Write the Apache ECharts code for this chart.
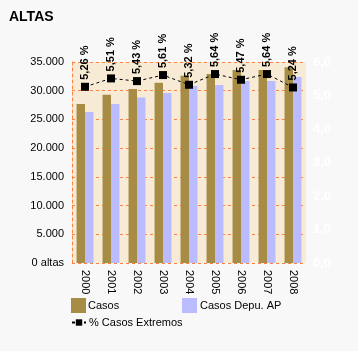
<!DOCTYPE html>
<html>
<head>
<meta charset="utf-8">
<script src="https://cdn.jsdelivr.net/npm/echarts@6/dist/echarts.min.js"></script>
<style>
  html, body { margin: 0; padding: 0; background: #f8f8f8; }
  #main { width: 358px; height: 351px; }
</style>
</head>
<body>
<div id="main"></div>
<script>
var years = ['2000', '2001', '2002', '2003', '2004', '2005', '2006', '2007', '2008'];
var casos = [27700, 29300, 30300, 31400, 32600, 32900, 33600, 33600, 34100];
var casosDepu = [26300, 27700, 28800, 29600, 30800, 31000, 31700, 31700, 32400];
var pctExtremos = [5.26, 5.51, 5.43, 5.61, 5.32, 5.64, 5.47, 5.64, 5.24];
var leftTicks = [0, 5000, 10000, 15000, 20000, 25000, 30000, 35000];

var font = 'Liberation Sans, Arial, sans-serif';
var orange = '#ff8040';

function miles(v) {
  if (v === 0) return '0 altas';
  return String(v).replace(/\B(?=(\d{3})+(?!\d))/g, '.');
}

var chart = echarts.init(document.getElementById('main'));
chart.setOption({
  backgroundColor: '#f8f8f8',
  animation: false,
  textStyle: { fontFamily: font },
  title: {
    text: 'ALTAS', left: 9, top: 10, padding: 0,
    textStyle: { fontSize: 14, fontWeight: 'bold', color: '#000', fontFamily: font }
  },
  grid: {
    left: 72, right: 52, top: 62, bottom: 88,
    show: true, backgroundColor: '#f7ebd5', borderWidth: 0
  },
  legend: [
    {
      data: ['Casos'], left: 71, top: 298, padding: 0,
      itemWidth: 15, itemHeight: 15, icon: 'rect', itemGap: 0,
      textStyle: { fontSize: 11, color: '#000', padding: [0, 0, 0, -3] }
    },
    {
      data: ['Casos Depu. AP'], left: 182, top: 298, padding: 0,
      itemWidth: 15, itemHeight: 15, icon: 'rect',
      textStyle: { fontSize: 11, color: '#000', padding: [0, 0, 0, -2] }
    },
    {
      data: ['% Casos Extremos'], left: 71, top: 317, padding: 0,
      itemWidth: 14, itemHeight: 8,
      textStyle: { fontSize: 11, color: '#000', padding: [0, 0, 0, -2] }
    }
  ],
  xAxis: {
    type: 'category', data: years,
    axisLine: { show: false }, axisTick: { show: false },
    axisLabel: { rotate: -90, margin: 7, fontSize: 11, color: '#000', fontFamily: font }
  },
  yAxis: [
    {
      type: 'value', min: 0, max: 35000, interval: 5000,
      axisLine: { show: true, lineStyle: { color: orange, type: [3, 3], width: 1 } },
      axisTick: { show: false },
      splitLine: { show: true, lineStyle: { color: orange, type: [3, 3], width: 1 } },
      axisLabel: { margin: 8, fontSize: 11, color: '#000', fontFamily: font, formatter: miles }
    },
    {
      type: 'value', min: 0, max: 6, interval: 1,
      axisLine: { show: false }, axisTick: { show: false }, splitLine: { show: false },
      axisLabel: {
        margin: 7, fontSize: 13, fontWeight: 'bold', color: '#ffffff', fontFamily: font,
        formatter: function (v) { return v.toFixed(1).replace('.', ','); }
      }
    }
  ],
  series: [
    {
      name: 'Casos', type: 'bar', data: casos,
      barGap: '0%', barCategoryGap: '35%',
      itemStyle: { color: '#a68c44' }
    },
    {
      name: 'Casos Depu. AP', type: 'bar', data: casosDepu,
      itemStyle: { color: '#bbbbff' }
    },
    {
      name: '% Casos Extremos', type: 'line', yAxisIndex: 1, data: pctExtremos,
      symbol: 'rect', symbolSize: 8,
      itemStyle: { color: '#000' },
      lineStyle: { color: '#000', width: 1, type: [3, 3] },
      label: {
        show: true, position: 'top', rotate: 90, align: 'left', verticalAlign: 'middle',
        distance: 2, offset: [1, 0], fontSize: 11, fontWeight: 'bold', color: '#000', fontFamily: font,
        formatter: function (p) { return p.value.toFixed(2).replace('.', ',') + ' %'; }
      }
    }
  ]
});
</script>
</body>
</html>
